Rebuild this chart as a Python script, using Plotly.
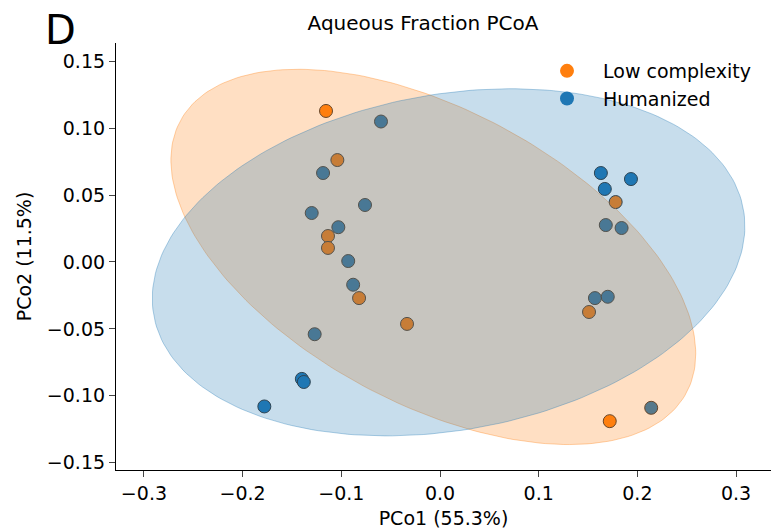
import numpy as np
import plotly.graph_objects as go

# ---- data ----
low_x = [-0.1155, -0.104, -0.1135, -0.1135, -0.082, -0.0334, 0.151, 0.178, 0.172]
low_y = [0.1129, 0.0762, 0.0194, 0.0105, -0.027, -0.0463, -0.0374, 0.0448, -0.119]

hum_x = [-0.0598, -0.1185, -0.076, -0.130, -0.103, -0.093, -0.088, -0.127, -0.140,
         -0.138, -0.178, 0.163, 0.167, 0.1935, 0.168, 0.184, 0.157, 0.170, 0.214]
hum_y = [0.105, 0.0665, 0.0426, 0.0366, 0.026, 0.0007, -0.017, -0.054, -0.0874,
         -0.0897, -0.108, 0.0665, 0.0546, 0.062, 0.0276, 0.0254, -0.027, -0.026, -0.109]

groups = ["Low complexity", "Humanized"]
colors = ["#ff7f0e", "#1f77b4"]
fills = ["rgba(255,127,14,0.25)", "rgba(31,119,180,0.25)"]
edges = ["rgba(255,127,14,0.35)", "rgba(31,119,180,0.35)"]

x_ticks = [-0.3, -0.2, -0.1, 0.0, 0.1, 0.2, 0.3]
y_ticks = [-0.15, -0.10, -0.05, 0.00, 0.05, 0.10, 0.15]


def conf_ellipse(x, y, n_std=2.0, n=240):
    x = np.asarray(x); y = np.asarray(y)
    cov = np.cov(x, y)
    vals, vecs = np.linalg.eigh(cov)
    t = np.linspace(0, 2 * np.pi, n)
    circ = np.vstack([np.cos(t), np.sin(t)])
    pts = vecs @ (np.sqrt(vals)[:, None] * n_std * circ)
    return pts[0] + x.mean(), pts[1] + y.mean()


data = [(low_x, low_y), (hum_x, hum_y)]
fig = go.Figure()

# points (drawn below the ellipses)
for (xs, ys), c, name in zip(data, colors, groups):
    fig.add_trace(go.Scatter(
        x=xs, y=ys, mode="markers", name=name, showlegend=False,
        marker=dict(size=13, color=c, line=dict(color="#333333", width=1)),
    ))

# confidence ellipses
for (xs, ys), f, e in zip(data, fills, edges):
    ex, ey = conf_ellipse(xs, ys)
    fig.add_trace(go.Scatter(
        x=ex, y=ey, mode="lines", fill="toself", fillcolor=f,
        line=dict(color=e, width=1), showlegend=False, hoverinfo="skip",
    ))

# legend entries
for i, (c, name) in enumerate(zip(colors, groups)):
    fig.add_trace(go.Scatter(
        x=[None], y=[None], mode="markers", name=name, legendgroup=name,
        marker=dict(size=14, color=c),
    ))

W, H = 771, 531
L, R, T, B = 116, 0, 43, 61
pw = W - L - R
ph = H - T - B

fig.update_layout(
    width=W, height=H,
    margin=dict(l=L, r=R, t=T, b=B),
    paper_bgcolor="white", plot_bgcolor="white",
    font=dict(family="DejaVu Sans", size=19, color="black"),
    title=dict(text="Aqueous Fraction PCoA", x=(423 - L) / pw, xref="paper",
               xanchor="center", y=1 - 23 / H, yanchor="middle",
               font=dict(size=20)),
    legend=dict(x=(531 - L) / pw, y=1 - (52 - T) / ph, xanchor="left", yanchor="top",
                bgcolor="rgba(0,0,0,0)", font=dict(size=19), itemwidth=62,
                traceorder="grouped", tracegroupgap=0),
    xaxis=dict(range=[-0.3283, 0.3354], tickvals=x_ticks, tickformat=".1f",
               showgrid=False, zeroline=False, showline=True, linecolor="black",
               linewidth=1.2, ticks="outside", ticklen=6, tickwidth=1.2,
               tickfont=dict(size=19),
               title=dict(text="PCo1 (55.3%)", standoff=8, font=dict(size=19))),
    yaxis=dict(range=[-0.1555, 0.1637], tickvals=y_ticks, tickformat=".2f",
               showgrid=False, zeroline=False, showline=True, linecolor="black",
               linewidth=1.2, ticks="outside", ticklen=6, tickwidth=1.2,
               tickfont=dict(size=19),
               title=dict(text="PCo2 (11.5%)", standoff=10, font=dict(size=19))),
    annotations=[dict(text="D", x=(60 - L) / pw, y=1 + (T - 30) / ph,
                      xref="paper", yref="paper", showarrow=False,
                      font=dict(size=40, color="black"), xanchor="center", yanchor="middle")],
)

fig.write_html("out.html")
